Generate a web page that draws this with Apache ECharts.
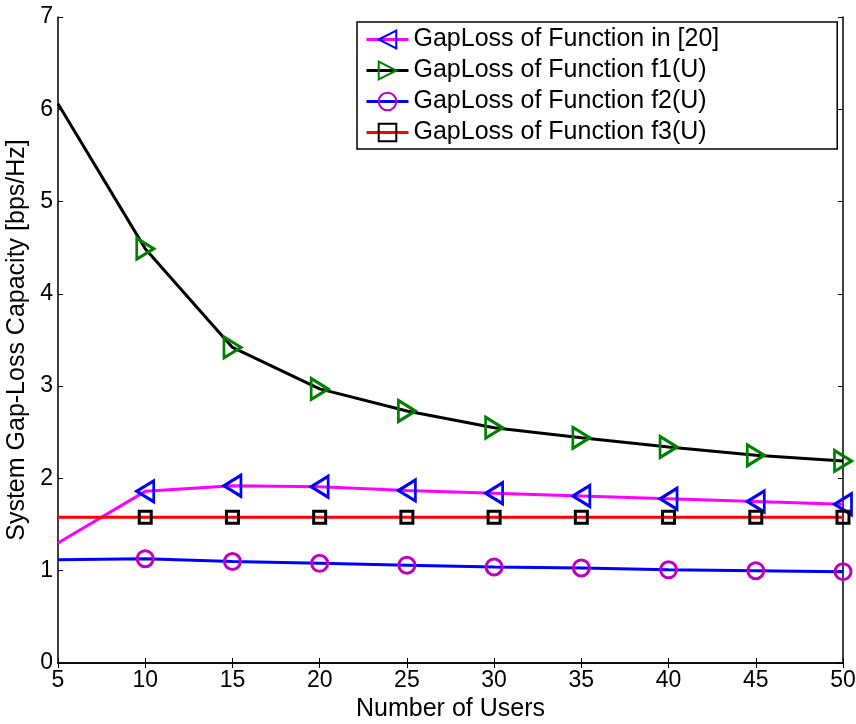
<!DOCTYPE html>
<html>
<head>
<meta charset="utf-8">
<script src="https://cdn.jsdelivr.net/npm/echarts@6/dist/echarts.min.js"></script>
<style>
  html, body { margin: 0; padding: 0; background: #fff; }
  #chart { width: 856px; height: 724px; }
</style>
</head>
<body>
<div id="chart"></div>
<script>
// Number of users on the x axis
const users = [5, 10, 15, 20, 25, 30, 35, 40, 45, 50];

// System gap-loss capacity [bps/Hz] for each gap-loss function
const gapRef20 = [1.30, 1.86, 1.92, 1.91, 1.87, 1.84, 1.81, 1.78, 1.75, 1.72];
const gapF1    = [6.06, 4.49, 3.42, 2.97, 2.73, 2.55, 2.44, 2.34, 2.25, 2.19];
const gapF2    = [1.12, 1.13, 1.10, 1.08, 1.06, 1.04, 1.03, 1.01, 1.00, 0.99];
const gapF3    = [1.58, 1.58, 1.58, 1.58, 1.58, 1.58, 1.58, 1.58, 1.58, 1.58];

const seriesNames = [
  'GapLoss of Function in [20]',
  'GapLoss of Function f1(U)',
  'GapLoss of Function f2(U)',
  'GapLoss of Function f3(U)'
];

const yTicks = [0, 1, 2, 3, 4, 5, 6, 7];

const FONT = '"Liberation Sans", Arial, sans-serif';

// Pair users with values; the first point carries no marker
function pairs(vals) {
  return users.map((u, i) => i === 0 ? { value: [u, vals[i]], symbol: 'none' } : [u, vals[i]]);
}

function lineSeries(name, vals, lineColor, symbol, symSize, symColor, rotate) {
  return {
    name: name,
    type: 'line',
    data: pairs(vals),
    symbol: symbol,
    symbolSize: symSize,
    symbolRotate: rotate || 0,
    showAllSymbol: true,
    lineStyle: { color: lineColor, width: 3 },
    itemStyle: { color: 'rgba(255,255,255,0)', borderColor: symColor, borderWidth: 3 },
    emphasis: { disabled: true },
    animation: false,
    z: 3
  };
}

const chart = echarts.init(document.getElementById('chart'), null, { renderer: 'canvas' });

const axisLine = { show: true, lineStyle: { color: '#000', width: 1.5 } };
const axisTick = { show: true, inside: true, length: 5, lineStyle: { color: '#000', width: 1 } };

chart.setOption({
  backgroundColor: '#fff',
  animation: false,
  grid: { left: 58, right: 13, top: 17, bottom: 61, show: false, outerBoundsMode: 'none', containLabel: false },
  legend: {
    orient: 'vertical',
    left: 357,
    top: 22,
    padding: [5, 118, 4, 8],
    itemWidth: 42,
    itemHeight: 22,
    itemGap: 6,
    backgroundColor: '#fff',
    borderColor: '#000',
    borderWidth: 1.5,
    borderRadius: 0,
    lineStyle: { width: 3 },
    textStyle: { fontFamily: FONT, fontSize: 25, color: '#000' },
    data: seriesNames,
    selectedMode: false
  },
  xAxis: [
    {
      type: 'value', min: 5, max: 50, interval: 5,
      name: 'Number of Users', nameLocation: 'middle', nameGap: 31,
      nameTextStyle: { fontFamily: FONT, fontSize: 25, color: '#000' },
      axisLine: axisLine, axisTick: axisTick,
      axisLabel: { fontFamily: FONT, fontSize: 23, color: '#000', margin: 6 },
      splitLine: { show: false }
    },
    {
      type: 'value', position: 'top', min: 5, max: 50, interval: 5,
      axisLine: axisLine, axisTick: axisTick,
      axisLabel: { show: false }, splitLine: { show: false }
    }
  ],
  yAxis: [
    {
      type: 'value', min: yTicks[0], max: yTicks[yTicks.length - 1], interval: 1,
      name: 'System Gap-Loss Capacity [bps/Hz]', nameLocation: 'middle', nameGap: 24,
      nameTextStyle: { fontFamily: FONT, fontSize: 25, color: '#000' },
      axisLine: axisLine, axisTick: axisTick,
      axisLabel: { fontFamily: FONT, fontSize: 23, color: '#000', margin: 5 },
      splitLine: { show: false }
    },
    {
      type: 'value', position: 'right', min: yTicks[0], max: yTicks[yTicks.length - 1], interval: 1,
      axisLine: axisLine, axisTick: axisTick,
      axisLabel: { show: false }, splitLine: { show: false }
    }
  ],
  series: [
    lineSeries(seriesNames[0], gapRef20, '#ff00ff', 'triangle', [21, 17], '#0000ff', 90),
    lineSeries(seriesNames[1], gapF1, '#000000', 'triangle', [21, 17], '#008000', -90),
    lineSeries(seriesNames[2], gapF2, '#0000ff', 'circle', 16, '#bf00bf', 0),
    lineSeries(seriesNames[3], gapF3, '#ff0000', 'rect', 12, '#000000', 0)
  ]
});
</script>
</body>
</html>
